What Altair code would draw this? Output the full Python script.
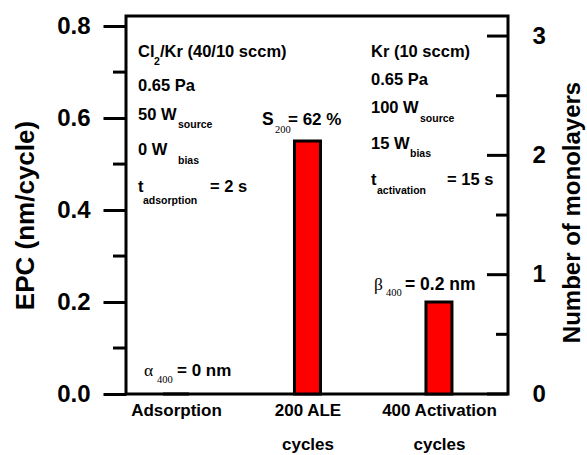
import altair as alt
import pandas as pd

# ---------------- data ----------------
categories = ["Adsorption", "200 ALE|cycles", "400 Activation|cycles"]
epc_values = [0.0, 0.55, 0.20]          # nm/cycle
left_ticks = [0.0, 0.2, 0.4, 0.6, 0.8]
left_minor = [0.1, 0.3, 0.5, 0.7]
right_ticks = [0, 1, 2, 3]
right_minor = [0.5, 1.5, 2.5]
epc_domain = [0, 0.822]
ml_domain = [0, 3.168]

left_text = ["Cl", "2", "/Kr (40/10 sccm)", "0.65 Pa", "50 W", "source", "0 W", "bias",
             "t", "adsorption", "= 2 s"]
right_text = ["Kr (10 sccm)", "0.65 Pa", "100 W", "source", "15 W", "bias",
              "t", "activation", "= 15 s"]
s_label = ["S", "200", "= 62 %"]
b_label = ["β", "400", "= 0.2 nm"]
a_label = ["α", "400", "= 0 nm"]

# ---------------- layout ----------------
L, T_, W, H = 126, 16, 382, 378
SANS = "Liberation Sans"
SERIF = "Liberation Serif"

bars_df = pd.DataFrame({"cat": categories, "epc": epc_values})

xscale = alt.Scale(type="point", domain=categories, padding=0.4526, align=0.42)
yscale = alt.Scale(domain=epc_domain, nice=False, zero=True)
mlscale = alt.Scale(domain=ml_domain, nice=False, zero=True)

bars = alt.Chart(bars_df).mark_bar(size=26, color="#FF0000", stroke="black",
                                   strokeWidth=3).encode(
    x=alt.X("cat:N", scale=xscale, sort=categories,
            axis=alt.Axis(title=None, ticks=False, domain=False, labelAngle=0,
                          labelExpr="split(datum.label, '|')", labelLineHeight=34,
                          labelFont=SANS, labelFontSize=17, labelFontWeight="bold",
                          labelColor="black", labelPadding=8)),
    y=alt.Y("epc:Q", scale=yscale,
            axis=alt.Axis(title="EPC (nm/cycle)", values=left_ticks, format=".1f",
                          grid=False, domain=False, tickSize=23, tickWidth=3,
                          tickColor="black", labelFont=SANS, labelFontSize=24,
                          labelFontWeight="bold", labelColor="black", labelPadding=13,
                          titleFont=SANS, titleFontSize=26, titleFontWeight="bold",
                          titleColor="black", titleAngle=270, titleAlign="center",
                          titleBaseline="middle", titleX=-101, titleY=199)),
)

minor_left = alt.Chart(pd.DataFrame({"v": left_minor})).mark_rule(
    color="black", strokeWidth=3).encode(
    y=alt.Y("v:Q", scale=yscale), x=alt.value(-13), x2=alt.value(0))


def txt(s, x, y, size=16.5, font=SANS, weight="bold"):
    return alt.Chart(alt.Data(values=[{}])).mark_text(
        text=s, align="left", baseline="alphabetic", font=font, fontSize=size,
        fontWeight=weight, color="black").encode(
        x=alt.value(x - L), y=alt.value(y - T_))


SUB = 10.5
texts = [
    # left column
    txt(left_text[0], 138, 57), txt(left_text[1], 154, 65, SUB), txt(left_text[2], 160, 57),
    txt(left_text[3], 138, 91),
    txt(left_text[4], 138, 120), txt(left_text[5], 178, 128, SUB),
    txt(left_text[6], 138, 155), txt(left_text[7], 178, 164, SUB),
    txt(left_text[8], 138, 192), txt(left_text[9], 143, 204, SUB), txt(left_text[10], 210, 192),
    # right column
    txt(right_text[0], 371, 57),
    txt(right_text[1], 371, 85),
    txt(right_text[2], 371, 113), txt(right_text[3], 420, 122, SUB),
    txt(right_text[4], 371, 149), txt(right_text[5], 410, 157, SUB),
    txt(right_text[6], 371, 185), txt(right_text[7], 377, 194, SUB), txt(right_text[8], 447, 185),
    # S200
    txt(s_label[0], 262, 125, 17.5), txt(s_label[1], 275, 133, 10.5, SERIF, "normal"),
    txt(s_label[2], 288, 125, 17),
    # beta
    txt(b_label[0], 374, 290, 17.5, SERIF, "normal"), txt(b_label[1], 386, 296, 10.5, SERIF, "normal"),
    txt(b_label[2], 405, 290, 17.5),
    # alpha
    txt(a_label[0], 144, 376, 17.5, SERIF, "normal"), txt(a_label[1], 157, 383, 10.5, SERIF, "normal"),
    txt(a_label[2], 177, 376, 17),
]

left_layer = alt.layer(bars, minor_left, *texts)

ml_major = pd.DataFrame({"ml": right_ticks, "len": [21] * len(right_ticks)})
ml_minor = pd.DataFrame({"ml": right_minor, "len": [12] * len(right_minor)})

right_axis_rules = alt.Chart(ml_major).mark_rule(color="black", strokeWidth=3).encode(
    y=alt.Y("ml:Q", scale=mlscale,
            axis=alt.Axis(orient="right", title="Number of monolayers", values=right_ticks,
                          format="d", grid=False, domain=False, ticks=False,
                          labelFont=SANS, labelFontSize=24, labelFontWeight="bold",
                          labelColor="black", labelPadding=24,
                          titleFont=SANS, titleFontSize=24, titleFontWeight="bold",
                          titleColor="black", titleAngle=270, titleAlign="center",
                          titleBaseline="middle", titleX=64, titleY=196)),
    x=alt.value(W - 21), x2=alt.value(W))

right_minor_rules = alt.Chart(ml_minor).mark_rule(color="black", strokeWidth=3).encode(
    y=alt.Y("ml:Q", scale=mlscale), x=alt.value(W - 12), x2=alt.value(W))

right_layer = alt.layer(right_axis_rules, right_minor_rules)

chart = alt.layer(left_layer, right_layer).resolve_scale(y="independent").properties(
    width=W, height=H,
    autosize=alt.AutoSizeParams(type="none"),
    padding={"left": L, "top": T_, "right": 587 - L - W, "bottom": 455 - T_ - H},
    background="white",
).configure_view(stroke="black", strokeWidth=3)

chart.save("out.html", embed_options={"renderer": "svg", "actions": False})
